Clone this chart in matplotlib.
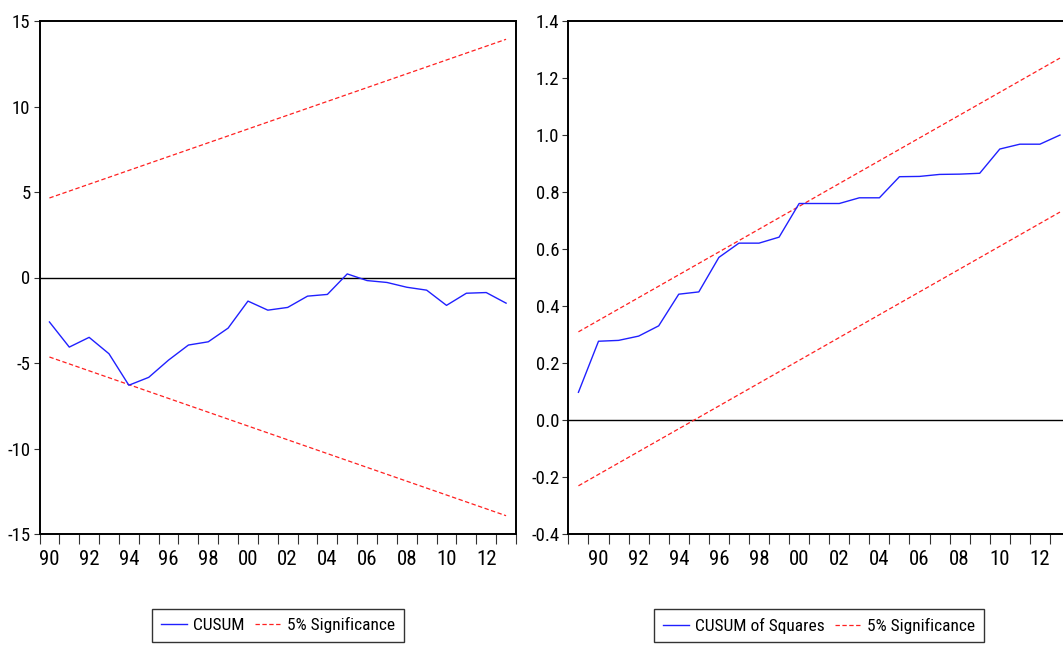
import matplotlib
matplotlib.use("Agg")
import matplotlib.pyplot as plt
from matplotlib import font_manager
from matplotlib.ticker import FixedLocator, FixedFormatter

# CUSUM test (recursive residuals), 1990-2013
cusum_years = list(range(1990, 2014))
cusum = [-2.6, -4.07, -3.5, -4.46, -6.3, -5.84, -4.83, -3.95, -3.76, -2.96,
         -1.38, -1.91, -1.75, -1.09, -0.99, 0.21, -0.18, -0.29, -0.57, -0.74,
         -1.63, -0.92, -0.88, -1.5]
cusum_bound_years = [1990, 2013]
cusum_upper = [4.65, 13.93]
cusum_lower = [-4.65, -13.93]

# CUSUM of squares, 1989-2013
sq_years = list(range(1989, 2014))
cusum_sq = [0.098, 0.277, 0.28, 0.295, 0.331, 0.442, 0.45, 0.571, 0.621, 0.621,
            0.642, 0.76, 0.76, 0.76, 0.78, 0.78, 0.854, 0.855, 0.862, 0.863,
            0.866, 0.951, 0.968, 0.968, 1.0]
sq_bound_years = [1989, 2013]
sq_upper = [0.31, 1.27]
sq_lower = [-0.23, 0.73]

year_labels = ["90", "92", "94", "96", "98", "00", "02", "04", "06", "08", "10", "12"]
label_years = [1990, 1992, 1994, 1996, 1998, 2000, 2002, 2004, 2006, 2008, 2010, 2012]

names = {f.name for f in font_manager.fontManager.ttflist}
fam = "Liberation Sans"
for cand in ["Roboto Condensed", "Archivo Narrow", "PT Sans Narrow"]:
    if cand in names:
        fam = cand
        break
plt.rcParams["font.family"] = [fam, "DejaVu Sans"]
plt.rcParams["axes.unicode_minus"] = False

W, H = 1063, 645
fig = plt.figure(figsize=(W / 100, H / 100), dpi=100)

blue = "#2020ff"
red = "#ff2020"


def setup(ax, x0, x1, yticks, ylabels):
    ax.set_xlim(x0, x1)
    ax.set_ylim(yticks[-1], yticks[0])
    for s in ax.spines.values():
        s.set_linewidth(1.4)
        s.set_color("black")
    ax.axhline(0, color="black", lw=1.0, zorder=1)
    # period boundaries get the tick marks, labels sit in the middle of the year
    bounds = [b + 0.5 for b in range(int(x0 - 0.5), int(x1 + 0.5))]
    ax.xaxis.set_major_locator(FixedLocator(bounds))
    ax.xaxis.set_major_formatter(FixedFormatter([""] * len(bounds)))
    ax.xaxis.set_minor_locator(FixedLocator(label_years))
    ax.xaxis.set_minor_formatter(FixedFormatter(year_labels))
    ax.tick_params(axis="x", which="major", direction="out", length=7.5, width=0.8,
                   color="#333333")
    ax.tick_params(axis="x", which="minor", length=0, pad=11.5, labelsize=15)
    ax.yaxis.set_major_locator(FixedLocator(yticks))
    ax.yaxis.set_major_formatter(FixedFormatter(ylabels))
    ax.tick_params(axis="y", direction="out", length=4, width=0.8, pad=2.5,
                   labelsize=13.5, color="#333333")


# left panel: CUSUM
ax1 = fig.add_axes([39.5 / W, 1 - 534 / H, (516 - 39.5) / W, (534 - 21) / H])
l1, = ax1.plot(cusum_years, cusum, color=blue, lw=1.0, label="CUSUM", zorder=3)
l2, = ax1.plot(cusum_bound_years, cusum_upper, color=red, lw=0.9,
               linestyle=(0, (3.5, 2)), label="5% Significance", zorder=2)
ax1.plot(cusum_bound_years, cusum_lower, color=red, lw=0.9, linestyle=(0, (3.5, 2)), zorder=2)
setup(ax1, 1989.5, 2013.5, [15, 10, 5, 0, -5, -10, -15],
      ["15", "10", "5", "0", "-5", "-10", "-15"])

# right panel: CUSUM of squares (runs past the right edge of the picture)
ax2 = fig.add_axes([568.4 / W, 1 - 534.3 / H, (1070 - 568.4) / W, (534.3 - 21) / H])
r1, = ax2.plot(sq_years, cusum_sq, color=blue, lw=1.0, label="CUSUM of Squares", zorder=3)
r2, = ax2.plot(sq_bound_years, sq_upper, color=red, lw=0.9,
               linestyle=(0, (3.5, 2)), label="5% Significance", zorder=2)
ax2.plot(sq_bound_years, sq_lower, color=red, lw=0.9, linestyle=(0, (3.5, 2)), zorder=2)
setup(ax2, 1988.5, 2013.5, [1.4, 1.2, 1.0, 0.8, 0.6, 0.4, 0.2, 0.0, -0.2, -0.4],
      ["1.4", "1.2", "1.0", "0.8", "0.6", "0.4", "0.2", "0.0", "-0.2", "-0.4"])

for ax, handles in [(ax1, [l1, l2]), (ax2, [r1, r2])]:
    leg = ax.legend(handles=handles, loc="center", bbox_to_anchor=(0.5, -0.178),
                    ncol=2, frameon=True, fancybox=False, shadow=False, fontsize=12.5,
                    handlelength=1.5, handletextpad=0.35, columnspacing=0.6,
                    borderpad=0.5, borderaxespad=0)
    leg.get_frame().set_edgecolor("black")
    leg.get_frame().set_linewidth(1.0)

fig.savefig("out.png", dpi=100)
